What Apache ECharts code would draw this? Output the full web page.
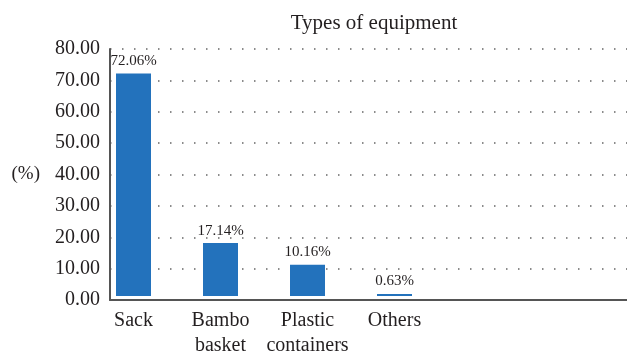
<!DOCTYPE html>
<html>
<head>
    <meta charset="utf-8">
    <title>Types of equipment</title>
    <script src="https://cdn.jsdelivr.net/npm/echarts@6/dist/echarts.min.js"></script>
    <style>
        html, body { margin: 0; padding: 0; background: #fff; }
        #chart { width: 627px; height: 358px; }
    </style>
</head>
<body>
<div id="chart"></div>
<script>
    // data
    var categories = ['Sack', 'Bambo\nbasket', 'Plastic\ncontainers', 'Others', '', ''];
    var shares = [72.06, 17.14, 10.16, 0.63];
    var yTicks = { min: 0, max: 80, step: 10 };

    var font = 'Liberation Serif';
    var ink = '#231f20';

    var chart = echarts.init(document.getElementById('chart'));
    chart.setOption({
        animation: false,
        title: {
            text: 'Types of equipment',
            left: 369, top: 8,
            textAlign: 'center',
            textStyle: { fontFamily: font, fontSize: 21, fontWeight: 'normal', color: ink }
        },
        grid: [
            // frame: axes + dotted grid
            { left: 110, right: 0, top: 49, bottom: 58 },
            // bars + category labels
            { left: 90, right: 15, top: 49, bottom: 58 }
        ],
        xAxis: [
            {
                gridIndex: 0,
                type: 'category',
                data: [''],
                axisLine: { lineStyle: { color: '#555', width: 2 } },
                axisTick: { show: false },
                axisLabel: { show: false }
            },
            {
                gridIndex: 1,
                type: 'category',
                data: categories,
                axisLine: { show: false },
                axisTick: { show: false },
                axisLabel: {
                    interval: 0,
                    margin: 12,
                    fontFamily: font,
                    fontSize: 20,
                    lineHeight: 25,
                    color: ink
                }
            }
        ],
        yAxis: [
            {
                gridIndex: 0,
                type: 'value',
                min: yTicks.min,
                max: yTicks.max,
                interval: yTicks.step,
                name: '(%)',
                nameLocation: 'middle',
                nameRotate: 0,
                nameGap: 70,
                nameTextStyle: { fontFamily: font, fontSize: 19, color: ink },
                axisLine: { show: true, lineStyle: { color: '#555', width: 2 } },
                axisTick: { show: false },
                axisLabel: {
                    margin: 10,
                    fontFamily: font,
                    fontSize: 20,
                    color: ink,
                    formatter: function (v) { return v.toFixed(2); }
                },
                splitLine: {
                    show: true,
                    lineStyle: { color: '#666', width: 1.5, type: [1.5, 10.5] }
                }
            },
            {
                gridIndex: 1,
                type: 'value',
                min: yTicks.min,
                max: yTicks.max,
                show: false
            }
        ],
        series: [
            {
                name: 'Types of equipment',
                type: 'bar',
                xAxisIndex: 1,
                yAxisIndex: 1,
                barWidth: 35,
                data: shares,
                itemStyle: { color: '#2372bc' },
                label: {
                    show: true,
                    position: 'top',
                    distance: 5,
                    fontFamily: font,
                    fontSize: 15,
                    color: ink,
                    formatter: function (p) { return p.value.toFixed(2) + '%'; }
                }
            }
        ]
    });
</script>
</body>
</html>
